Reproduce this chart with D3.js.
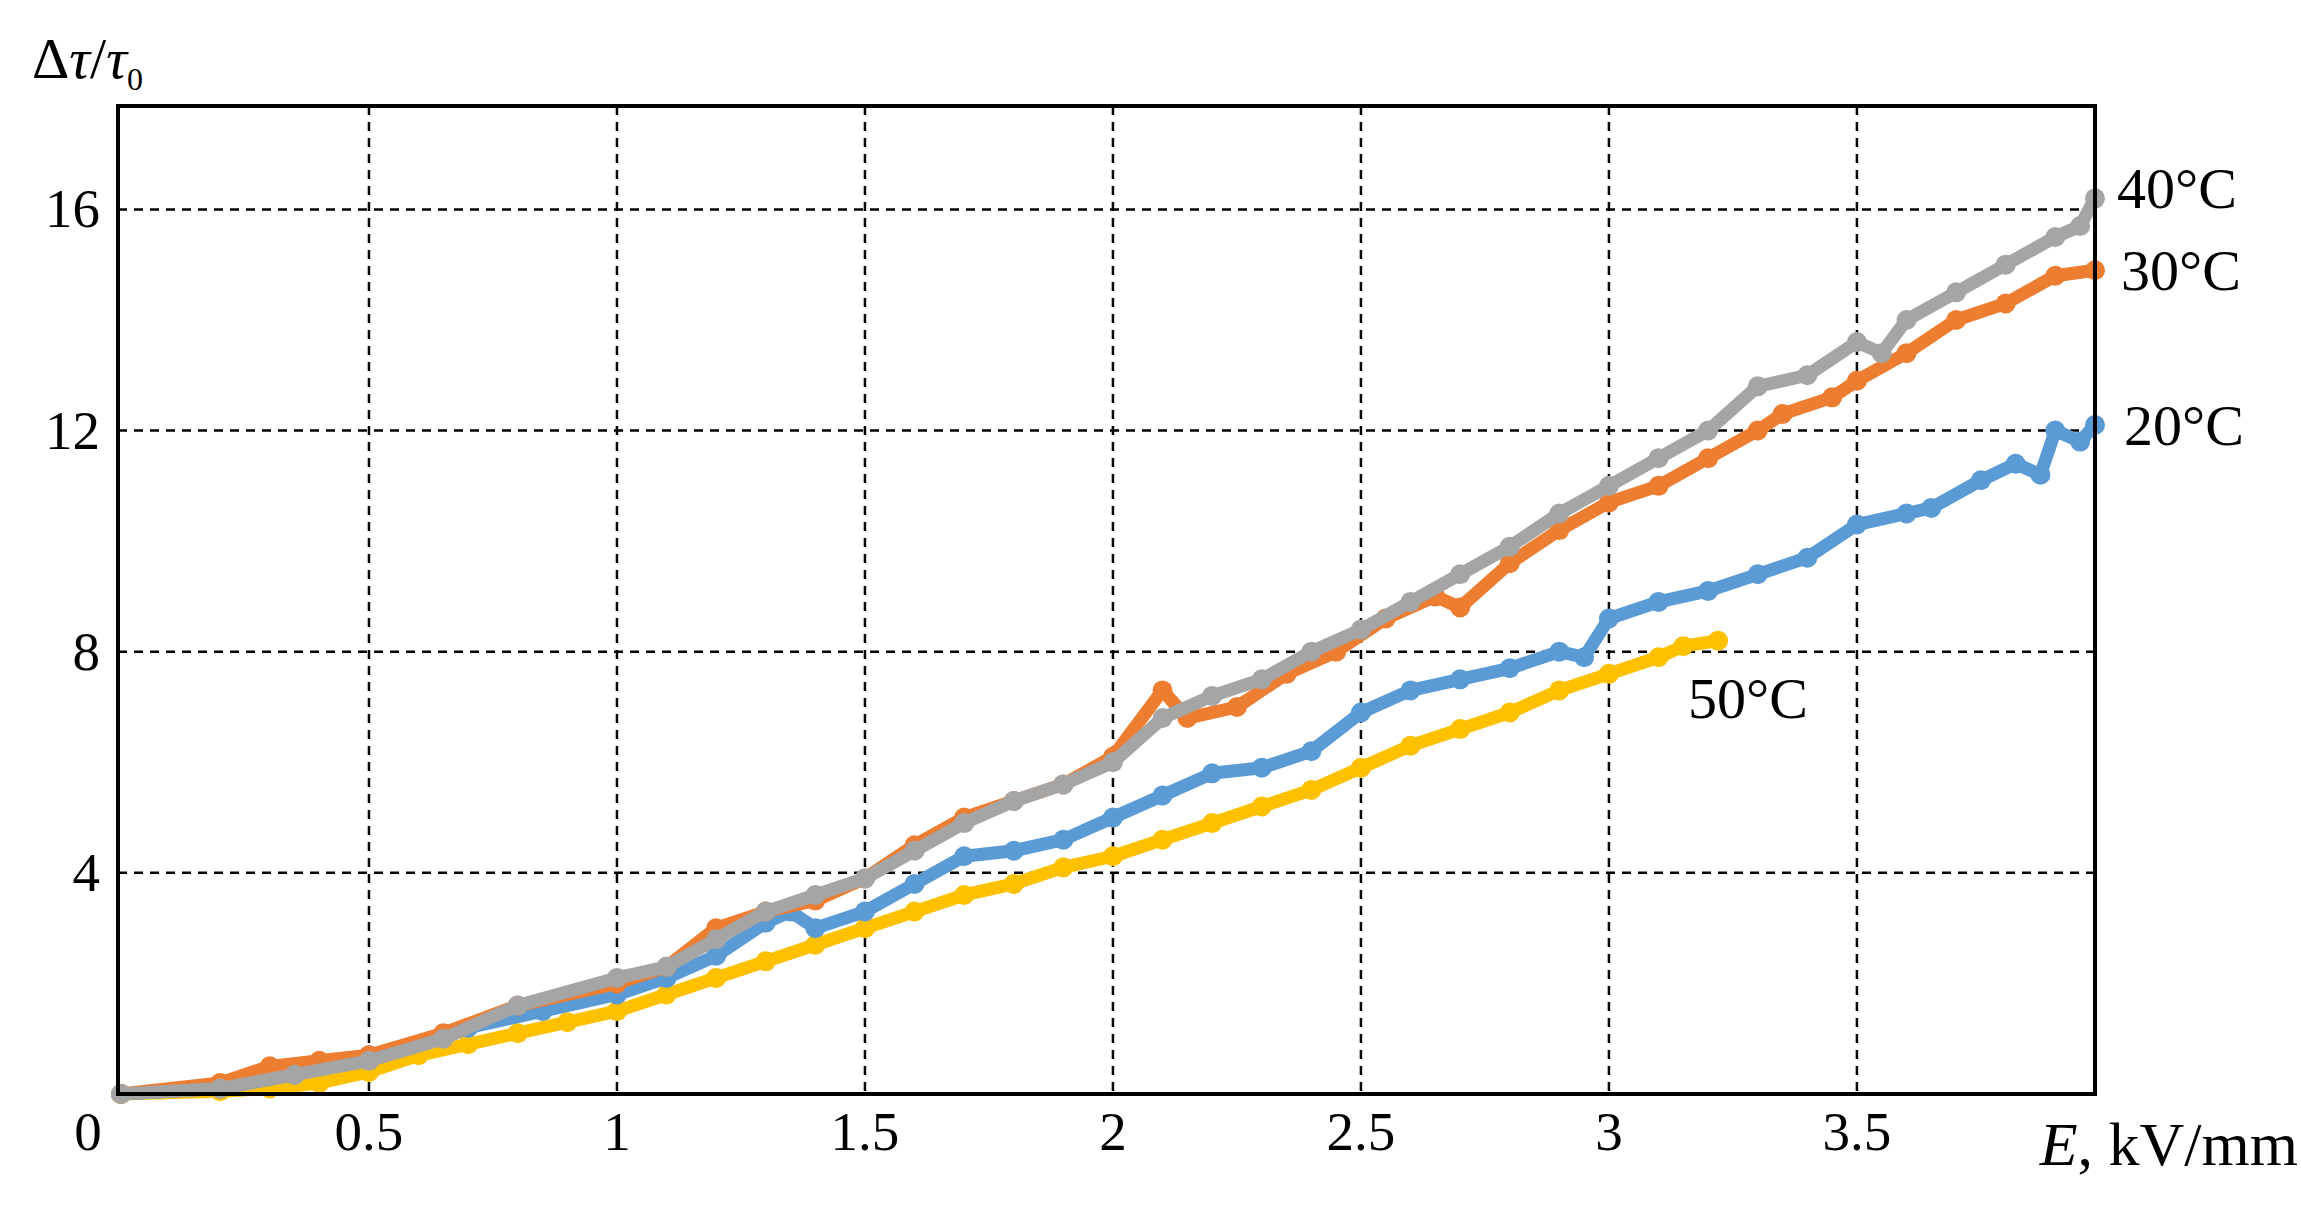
<!DOCTYPE html><html><head><meta charset="utf-8">
<script src="https://cdn.jsdelivr.net/npm/d3@7"></script>
<style>body{margin:0;background:#fff}text{font-family:"Liberation Serif",serif;fill:#000}</style></head><body>
<svg id="c" width="2301" height="1210"></svg>
<script>
const xTicks=[0.5,1,1.5,2,2.5,3,3.5];
const yTicks=[4,8,12,16];
const s40=[[0,0],[0.2,0.1],[0.35,0.35],[0.5,0.6],[0.65,1.0],[0.8,1.6],[1.0,2.1],[1.1,2.3],[1.2,2.8],[1.3,3.3],[1.4,3.6],[1.5,3.9],[1.6,4.4],[1.7,4.9],[1.8,5.3],[1.9,5.6],[2.0,6.0],[2.1,6.8],[2.2,7.2],[2.3,7.5],[2.4,8.0],[2.5,8.4],[2.6,8.9],[2.7,9.4],[2.8,9.9],[2.9,10.5],[3.0,11.0],[3.1,11.5],[3.2,12.0],[3.3,12.8],[3.4,13.0],[3.5,13.6],[3.55,13.4],[3.6,14.0],[3.7,14.5],[3.8,15.0],[3.9,15.5],[3.95,15.7],[3.98,16.2]];
const s30=[[0,0],[0.2,0.2],[0.3,0.5],[0.4,0.6],[0.5,0.7],[0.65,1.1],[0.8,1.6],[1.0,2.0],[1.1,2.3],[1.2,3.0],[1.3,3.3],[1.4,3.5],[1.5,3.9],[1.6,4.5],[1.7,5.0],[1.8,5.3],[1.9,5.6],[2.0,6.1],[2.1,7.3],[2.15,6.8],[2.25,7.0],[2.35,7.6],[2.45,8.0],[2.55,8.6],[2.65,9.0],[2.7,8.8],[2.8,9.6],[2.9,10.2],[3.0,10.7],[3.1,11.0],[3.2,11.5],[3.3,12.0],[3.35,12.3],[3.45,12.6],[3.5,12.9],[3.6,13.4],[3.7,14.0],[3.8,14.3],[3.9,14.8],[3.98,14.9]];
const s20=[[0,0],[0.2,0.1],[0.35,0.35],[0.5,0.7],[0.7,1.2],[0.85,1.5],[1.0,1.8],[1.1,2.1],[1.2,2.5],[1.3,3.1],[1.35,3.3],[1.4,3.0],[1.5,3.3],[1.6,3.8],[1.7,4.3],[1.8,4.4],[1.9,4.6],[2.0,5.0],[2.1,5.4],[2.2,5.8],[2.3,5.9],[2.4,6.2],[2.5,6.9],[2.6,7.3],[2.7,7.5],[2.8,7.7],[2.9,8.0],[2.95,7.9],[3.0,8.6],[3.1,8.9],[3.2,9.1],[3.3,9.4],[3.4,9.7],[3.5,10.3],[3.6,10.5],[3.65,10.6],[3.75,11.1],[3.82,11.4],[3.87,11.2],[3.9,12.0],[3.95,11.8],[3.98,12.1]];
const s50=[[0,0],[0.2,0.05],[0.3,0.1],[0.4,0.2],[0.5,0.4],[0.6,0.7],[0.7,0.9],[0.8,1.1],[0.9,1.3],[1.0,1.5],[1.1,1.8],[1.2,2.1],[1.3,2.4],[1.4,2.7],[1.5,3.0],[1.6,3.3],[1.7,3.6],[1.8,3.8],[1.9,4.1],[2.0,4.3],[2.1,4.6],[2.2,4.9],[2.3,5.2],[2.4,5.5],[2.5,5.9],[2.6,6.3],[2.7,6.6],[2.8,6.9],[2.9,7.3],[3.0,7.6],[3.1,7.9],[3.15,8.1],[3.22,8.2]];
const series=[{d:s50,c:"#ffc000"},{d:s20,c:"#5b9bd5"},{d:s30,c:"#ed7d31"},{d:s40,c:"#a5a5a5"}];
const L=118,R=2095,T=106,B=1094;
const x=d3.scaleLinear().domain([-0.006,3.98]).range([L,R]);
const y=d3.scaleLinear().domain([0,17.87]).range([B,T]);
const svg=d3.select("#c");
const g=svg.append("g");
xTicks.forEach(t=>g.append("line").attr("x1",x(t)).attr("x2",x(t)).attr("y1",T).attr("y2",B).attr("stroke","#000").attr("stroke-width",2.5).attr("stroke-dasharray","9,7"));
yTicks.forEach(t=>g.append("line").attr("x1",L).attr("x2",R).attr("y1",y(t)).attr("y2",y(t)).attr("stroke","#000").attr("stroke-width",2.5).attr("stroke-dasharray","9,7"));
const line=d3.line().x(d=>x(d[0])).y(d=>y(d[1]));
series.forEach(s=>{
 g.append("path").attr("d",line(s.d)).attr("fill","none").attr("stroke",s.c).attr("stroke-width",13).attr("stroke-linejoin","round").attr("stroke-linecap","round");
 g.selectAll(null).data(s.d).join("circle").attr("cx",d=>x(d[0])).attr("cy",d=>y(d[1])).attr("r",10).attr("fill",s.c);
});
g.append("rect").attr("x",L).attr("y",T).attr("width",R-L).attr("height",B-T).attr("fill","none").attr("stroke","#000").attr("stroke-width",4);
xTicks.forEach(t=>svg.append("text").attr("x",x(t)).attr("y",1150).attr("text-anchor","middle").attr("font-size",55).text(t));
svg.append("text").attr("x",88).attr("y",1150).attr("text-anchor","middle").attr("font-size",55).text("0");
yTicks.forEach(t=>svg.append("text").attr("x",100).attr("y",y(t)+18).attr("text-anchor","end").attr("font-size",55).text(t));
const yt=svg.append("text").attr("x",32).attr("y",78).attr("font-size",58);
yt.append("tspan").text("Δ");yt.append("tspan").attr("font-style","italic").text("τ");yt.append("tspan").text("/");yt.append("tspan").attr("font-style","italic").text("τ");yt.append("tspan").attr("font-size",32).attr("dy",12).text("0");
const xt=svg.append("text").attr("x",2298).attr("y",1165).attr("text-anchor","end").attr("font-size",62);
xt.append("tspan").attr("font-style","italic").text("E");xt.append("tspan").text(", kV/mm");
[["40°C",2117,208],["30°C",2121,290],["20°C",2124,445],["50°C",1688,718]].forEach(a=>svg.append("text").attr("x",a[1]).attr("y",a[2]).attr("font-size",58).text(a[0]));
</script></body></html>
